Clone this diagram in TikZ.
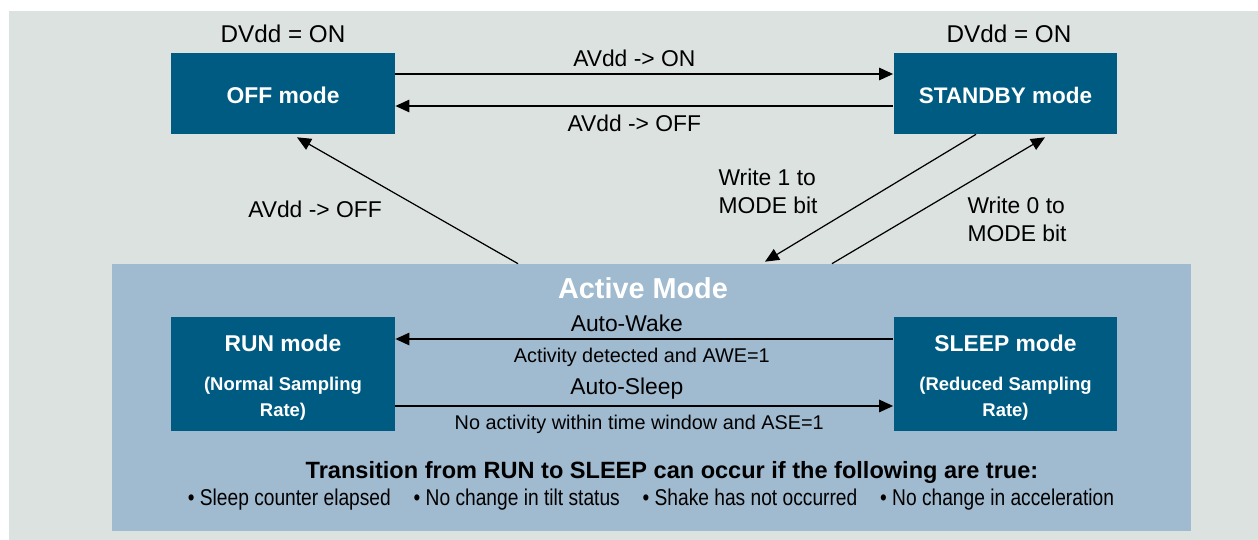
\documentclass[tikz,border=0pt]{standalone}
\usepackage{fontspec}
\setmainfont{Liberation Sans}
\newfontfamily\condfont{Liberation Sans}[FakeStretch=0.84]
\usepackage{xcolor}
\usetikzlibrary{arrows.meta}
\definecolor{modeblue}{RGB}{0,91,130}
\definecolor{activeblue}{RGB}{160,186,207}
\definecolor{bggray}{RGB}{220,226,223}

\begin{document}
\begin{tikzpicture}[x=0.02cm, y=-0.02cm,
        modebox/.style={fill=modeblue, text=white, align=center, inner sep=0pt, minimum width=4.48cm},
        arr/.style={-{Triangle[length=8pt,width=7pt]}, line width=1.1pt},
        diag/.style={-{Triangle[length=8pt,width=7pt]}, line width=0.7pt},
        lbl/.style={font=\fontsize{13}{16}\selectfont},
        small/.style={font=\fontsize{11.3}{13}\selectfont}]

        \useasboundingbox (0,0) rectangle (1258,540);
        \fill[white] (0,0) rectangle (1258,540);
        \fill[bggray] (9,11) rectangle (1258,540);

        % active mode panel
        \node[fill=activeblue, minimum width=21.58cm, minimum height=5.34cm, inner sep=0pt] (active) at (651.5,397.5) {};
        \node[text=white, font=\bfseries\fontsize{16.4}{19}\selectfont] (acttitle) at (643,288) {Active Mode};

        % mode boxes
        \node[modebox, minimum height=1.62cm, font=\bfseries\fontsize{13}{15}\selectfont] (off) at (283,93.5) {\rule{0pt}{11pt}OFF mode};
        \node[modebox, minimum height=1.62cm, font=\bfseries\fontsize{12.8}{15}\selectfont] (standby) at (1005.5,93.5) {\rule{0pt}{11pt}STANDBY mode};
        \node[modebox, minimum height=2.28cm, font=\bfseries\fontsize{10.5}{14.8}\selectfont] (run) at (283,374)
            {{\fontsize{13}{15}\selectfont\rule{0pt}{13.5pt}RUN mode}\\[7.4pt](Normal Sampling\\Rate)};
        \node[modebox, minimum height=2.28cm, font=\bfseries\fontsize{10.5}{14.8}\selectfont] (sleep) at (1005.5,374)
            {{\fontsize{13}{15}\selectfont\rule{0pt}{13.5pt}SLEEP mode}\\[7.4pt](Reduced Sampling\\Rate)};

        \node[font=\fontsize{13.8}{17}\selectfont] (dvoff) at (283,34) {DVdd = ON};
        \node[font=\fontsize{13.8}{17}\selectfont] (dvstandby) at (1009,34) {DVdd = ON};

        % OFF <-> STANDBY
        \draw[arr] ([yshift=0.39cm]off.east) -- node[lbl, above, pos=0.48] (lblon) {AVdd -> ON} ([yshift=0.39cm]standby.west);
        \draw[arr] ([yshift=-0.25cm]standby.west) -- node[lbl, below=1.2pt, pos=0.52] (lbloff) {AVdd -> OFF} ([yshift=-0.25cm]off.east);

        % active -> OFF
        \draw[diag] ([xshift=-2.67cm]active.north) -- ([xshift=0.28cm,yshift=-0.06cm]off.south);
        \node[lbl] (lbldown) at (315,209) {AVdd -> OFF};

        % STANDBY <-> active
        \draw[diag] ([xshift=-0.59cm]standby.south) -- ([xshift=2.27cm,yshift=0.04cm]active.north);
        \node[lbl, align=left] (lblw1) at (768,191) {Write 1 to\\MODE bit};
        \draw[diag] ([xshift=3.61cm]active.north) -- ([xshift=0.79cm,yshift=-0.06cm]standby.south);
        \node[lbl, align=left] (lblw0) at (1017,219) {Write 0 to\\MODE bit};

        % RUN <-> SLEEP
        \draw[arr] ([yshift=0.7cm]sleep.west) -- node[lbl, above, pos=0.535] (lblwake) {Auto-Wake}
            node[small, below=1.2pt, pos=0.505] (lblawe) {Activity detected and AWE=1} ([yshift=0.7cm]run.east);
        \draw[arr] ([yshift=-0.64cm]run.east) -- node[lbl, above, pos=0.465] (lblsleep) {Auto-Sleep}
            node[small, below=1.4pt, pos=0.49] (lblase) {No activity within time window and ASE=1} ([yshift=-0.64cm]sleep.west);

        \node[font=\bfseries\fontsize{13.4}{16}\selectfont] (cond) at (672,472) {Transition from RUN to SLEEP can occur if the following are true:};
        \node[font=\condfont\fontsize{13}{15}\selectfont] (bullets) at (651,500)
            {\textbullet\ Sleep counter elapsed\quad\textbullet\ No change in tilt status\quad\textbullet\ Shake has not occurred\quad\textbullet\ No change in acceleration};
\end{tikzpicture}
\end{document}
